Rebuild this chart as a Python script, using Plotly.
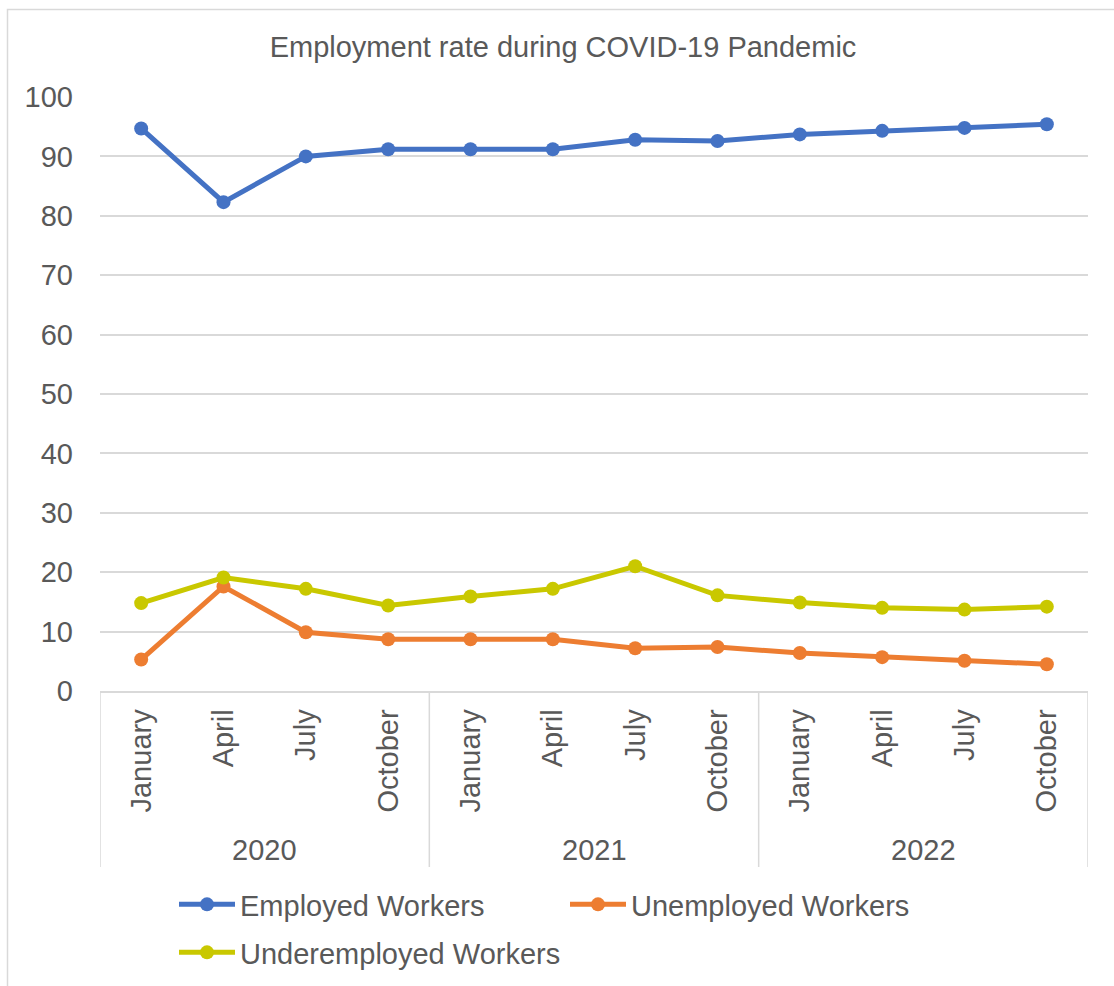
import plotly.graph_objects as go

months = ["January", "April", "July", "October"] * 3
years = ["2020", "2021", "2022"]
employed = [94.7, 82.3, 90.0, 91.2, 91.2, 91.2, 92.8, 92.6, 93.7, 94.3, 94.8, 95.4]
unemployed = [5.3, 17.6, 9.9, 8.7, 8.7, 8.7, 7.2, 7.4, 6.4, 5.7, 5.1, 4.5]
underemployed = [14.8, 19.1, 17.2, 14.4, 15.9, 17.2, 21.0, 16.1, 14.9, 14.0, 13.7, 14.2]
y_ticks = [0, 10, 20, 30, 40, 50, 60, 70, 80, 90, 100]

FONT = "Liberation Sans, Arial, sans-serif"
TXT = "#595959"
GRID = "#d9d9d9"

xpos = list(range(len(months)))

W, H = 1114, 986
L, R, T, B = 100, 26, 97, 295
pw = W - L - R
ph = H - T - B

def px_x(p):
    return (p - L) / pw

def px_y(p):
    return (H - B - p) / ph

fig = go.Figure()
series = [
    ("Employed Workers", employed, "#4472C4", "legend"),
    ("Unemployed Workers", unemployed, "#ED7D31", "legend"),
    ("Underemployed Workers", underemployed, "#C9C800", "legend2"),
]
for name, vals, col, lg in series:
    fig.add_trace(go.Scatter(
        x=xpos, y=vals, name=name, mode="lines+markers",
        line=dict(color=col, width=5),
        marker=dict(color=col, size=14, symbol="circle"),
        legend=lg,
    ))

shapes = []
for i in range(len(years) + 1):
    shapes.append(dict(type="line", xref="x", yref="paper",
                       x0=-0.5 + 4 * i, x1=-0.5 + 4 * i,
                       y0=0, y1=px_y(867),
                       line=dict(color=GRID, width=1.5)))
shapes.append(dict(type="rect", xref="paper", yref="paper",
                   x0=px_x(7.5), x1=px_x(1130), y0=px_y(1000), y1=px_y(9.5),
                   line=dict(color=GRID, width=1.5), fillcolor="rgba(0,0,0,0)",
                   layer="below"))

annotations = []
for i, yr in enumerate(years):
    annotations.append(dict(x=1.5 + 4 * i, y=px_y(850), xref="x", yref="paper",
                            text=yr, showarrow=False,
                            font=dict(family=FONT, size=29, color=TXT),
                            xanchor="center", yanchor="middle"))

legend_common = dict(orientation="h", xanchor="left", yanchor="top",
                     font=dict(family=FONT, size=29, color=TXT),
                     bgcolor="rgba(0,0,0,0)", itemwidth=56)

fig.update_layout(
    width=W, height=H,
    margin=dict(l=L, r=R, t=T, b=B, autoexpand=False),
    paper_bgcolor="white", plot_bgcolor="white",
    title=dict(text="Employment rate during COVID-19 Pandemic",
               x=px_x(563), xref="paper", xanchor="center",
               y=1 - 47 / H, yref="container", yanchor="middle",
               font=dict(family=FONT, size=29, color=TXT)),
    font=dict(family=FONT, size=29, color=TXT),
    xaxis=dict(range=[-0.5, 11.5], tickvals=xpos, ticktext=months,
               tickangle=-90, showgrid=False, zeroline=False,
               showline=True, linecolor=GRID, linewidth=1.5,
               ticks="", ticklabelstandoff=5, automargin=False,
               tickfont=dict(family=FONT, size=29, color=TXT)),
    yaxis=dict(range=[0, 100], tickvals=y_ticks, showgrid=True,
               gridcolor=GRID, gridwidth=1.5, zeroline=False,
               showline=False, ticks="", ticklabelstandoff=26, automargin=False,
               tickfont=dict(family=FONT, size=29, color=TXT)),
    legend=dict(x=px_x(174), y=px_y(879), entrywidth=320,
                entrywidthmode="pixels", **legend_common),
    legend2=dict(x=px_x(174), y=px_y(927), **legend_common),
    shapes=shapes,
    annotations=annotations,
)

fig.write_html("out.html")
